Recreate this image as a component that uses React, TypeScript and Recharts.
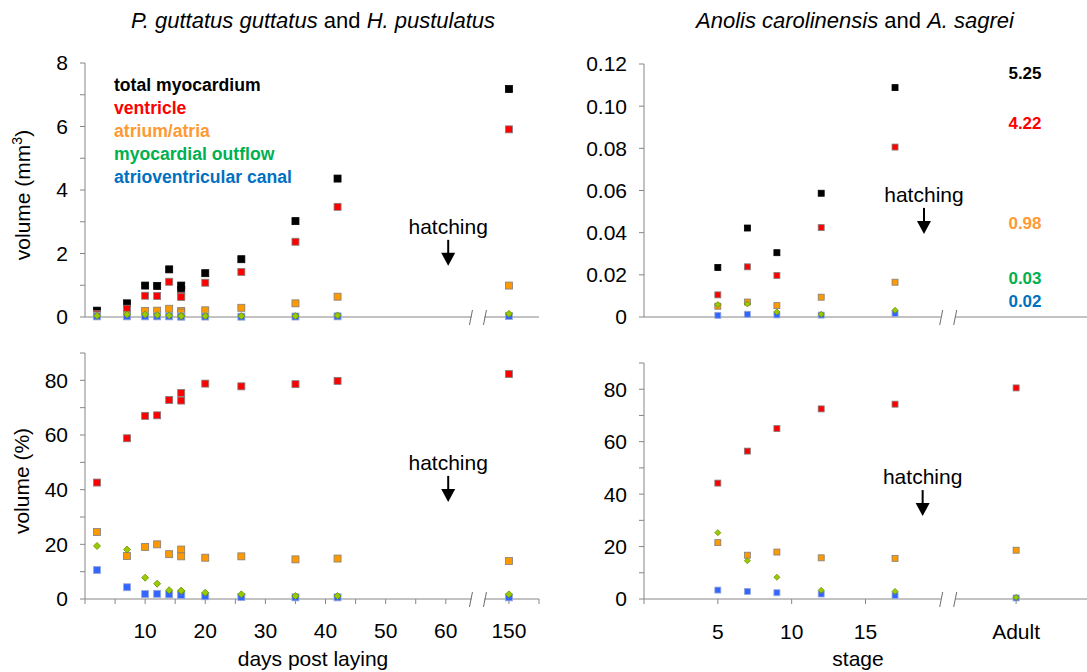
import React from 'react';
import { ScatterChart, Scatter, XAxis, YAxis, ReferenceLine, ReferenceDot, Legend } from 'recharts';

const FONT = '"Liberation Sans", Arial, Helvetica, sans-serif';

// ---------- P. guttatus guttatus and H. pustulatus (days post laying) ----------
const days = [2, 7, 10, 12, 14, 16, 16, 20, 26, 35, 42, 150];
const snakeTotalMm3 = [0.2, 0.43, 0.99, 0.98, 1.5, 0.99, 0.85, 1.38, 1.82, 3.02, 4.36, 7.18];
const snakeVentricleMm3 = [0.09, 0.26, 0.67, 0.66, 1.11, 0.67, 0.63, 1.08, 1.42, 2.37, 3.47, 5.91];
const snakeAtriumMm3 = [0.05, 0.07, 0.19, 0.2, 0.26, 0.19, 0.14, 0.21, 0.29, 0.43, 0.64, 0.99];
const snakeOutflowMm3 = [0.04, 0.08, 0.08, 0.06, 0.05, 0.03, 0.03, 0.03, 0.03, 0.03, 0.05, 0.1];
const snakeAvcMm3 = [0.02, 0.02, 0.02, 0.02, 0.02, 0.015, 0.013, 0.014, 0.01, 0.015, 0.02, 0.03];

const snakeVentriclePct = [42.6, 58.8, 67.0, 67.2, 72.8, 75.4, 72.6, 78.8, 77.8, 78.6, 79.8, 82.3];
const snakeAtriumPct = [24.5, 15.7, 19.0, 20.0, 16.4, 18.1, 15.6, 15.1, 15.6, 14.5, 14.8, 13.9];
const snakeOutflowPct = [19.4, 18.1, 7.8, 5.6, 3.2, 3.0, 3.0, 2.3, 1.7, 1.1, 1.1, 1.7];
const snakeAvcPct = [10.6, 4.3, 1.8, 1.9, 1.7, 1.5, 1.5, 1.0, 0.7, 0.6, 0.6, 0.6];

const dayTickValues = [0, 5, 10, 15, 20, 25, 30, 35, 40, 45, 50, 55, 60, 150, 155];
const dayTickLabels = ['', '', '10', '', '20', '', '30', '', '40', '', '50', '', '60', '150', ''];

// ---------- Anolis carolinensis and A. sagrei (stage) ----------
const stages = ['5', '7', '9', '12', '17', 'Adult'];
const lizardTotalMm3 = [0.0235, 0.0422, 0.0305, 0.0587, 0.1088];
const lizardVentricleMm3 = [0.0105, 0.0238, 0.0197, 0.0424, 0.0806];
const lizardAtriumMm3 = [0.0051, 0.0071, 0.0054, 0.0094, 0.0165];
const lizardOutflowMm3 = [0.0059, 0.0062, 0.0024, 0.0013, 0.0032];
const lizardAvcMm3 = [0.0008, 0.0013, 0.001, 0.0009, 0.0016];
const adultVolumesMm3 = [5.25, 4.22, 0.98, 0.03, 0.02]; // total, ventricle, atrium, outflow, AVC

const lizardVentriclePct = [44.2, 56.4, 65.0, 72.5, 74.3, 80.5];
const lizardAtriumPct = [21.5, 16.7, 17.9, 15.7, 15.5, 18.6];
const lizardOutflowPct = [25.3, 14.6, 8.3, 3.3, 2.9, 0.6];
const lizardAvcPct = [3.4, 2.9, 2.4, 1.9, 1.3, 0.4];

const stageTickValues = ['0', '5', '10', '15', 'Adult'];
const stageTickLabels = ['', '5', '10', '15', 'Adult'];

const seriesNames = ['total myocardium', 'ventricle', 'atrium/atria', 'myocardial outflow', 'atrioventricular canal'];
const yTicksMm3 = [0, 1, 2, 3, 4, 5, 6, 7, 8];
const yTicksPct = [0, 10, 20, 30, 40, 50, 60, 70, 80, 90];
const yTicksLizardMm3 = [0, 0.02, 0.04, 0.06, 0.08, 0.1, 0.12];

// ---------- axis-break mapping (positions on the broken axes) ----------
const dayPos = (d: number) => (d >= 100 ? d - 79.5 : d);
const stagePos = (s: string) => (s === 'Adult' ? 25.2 : Number(s));

const STYLE: Record<string, { fill: string; stroke: string; text: string; shape: 'square' | 'diamond' }> = {
  'total myocardium': { fill: '#000000', stroke: '#000000', text: '#000000', shape: 'square' },
  ventricle: { fill: '#ff0000', stroke: '#7f7f7f', text: '#ff0000', shape: 'square' },
  'atrium/atria': { fill: '#ff9900', stroke: '#7f7f7f', text: '#ff9933', shape: 'square' },
  'myocardial outflow': { fill: '#99cc00', stroke: '#6b8e00', text: '#00b050', shape: 'diamond' },
  'atrioventricular canal': { fill: '#3366ff', stroke: '#9aa9d9', text: '#0070c0', shape: 'square' },
};

const AXIS = '#868686';

const makeShape = (kind: 'square' | 'diamond', side: number, fill: string, stroke: string) => (p: any) => {
  const { cx, cy } = p;
  if (cx == null || cy == null) return <g />;
  if (kind === 'diamond') {
    const h = side / 2 + 0.5;
    return (
      <path d={`M${cx},${cy - h} L${cx + h},${cy} L${cx},${cy + h} L${cx - h},${cy} Z`} fill={fill} stroke={stroke} strokeWidth={0.8} />
    );
  }
  const h = side / 2;
  return <rect x={cx - h} y={cy - h} width={side} height={side} fill={fill} stroke={stroke} strokeWidth={0.8} />;
};

const pts = (xs: number[], ys: number[]) => ys.map((y, i) => ({ x: xs[i], y }));

const HatchShape = (p: any) => {
  const { cx, cy } = p;
  if (cx == null || cy == null) return <g />;
  return (
    <g>
      <text x={cx} y={cy + 7} textAnchor="middle" fontSize={21} fontFamily={FONT} fill="#000">
        hatching
      </text>
      <line x1={cx} y1={cy + 13} x2={cx} y2={cy + 28} stroke="#000" strokeWidth={2} />
      <path d={`M${cx - 7},${cy + 26} L${cx + 7},${cy + 26} L${cx},${cy + 39} Z`} fill="#000" />
    </g>
  );
};

const BreakShape = (p: any) => {
  const { cx, cy } = p;
  if (cx == null || cy == null) return <g />;
  return (
    <g stroke="#6d6d6d" strokeWidth={1}>
      <line x1={cx - 8.5} y1={cy + 8} x2={cx - 5.5} y2={cy - 7} />
      <line x1={cx + 5.5} y1={cy + 8} x2={cx + 8.5} y2={cy - 7} />
    </g>
  );
};

const LegendContent = (props: any) => {
  const payload = (props.payload || []).slice().sort(
    (a: any, b: any) => seriesNames.indexOf(a.value) - seriesNames.indexOf(b.value)
  );
  return (
    <div style={{ fontFamily: FONT, fontWeight: 'bold', fontSize: 17.6, lineHeight: '23px', whiteSpace: 'nowrap' }}>
      {payload.map((e: any) => (
        <div key={e.value} style={{ color: STYLE[e.value].text }}>
          {e.value}
        </div>
      ))}
    </div>
  );
};

type Series = { name: string; data: { x: number; y: number }[] };

const renderSeries = (series: Series[], side: number) =>
  // draw order: total, ventricle, atrium, AVC, outflow (outflow on top)
  [0, 1, 2, 4, 3]
    .filter((i) => series[i])
    .map((i) => {
      const s = series[i];
      const st = STYLE[s.name];
      return (
        <Scatter
          key={s.name}
          name={s.name}
          data={s.data}
          fill={st.fill}
          isAnimationActive={false}
          shape={makeShape(st.shape, st.shape === 'diamond' ? side - 1 : side, st.fill, st.stroke)}
        />
      );
    });

const tickStyle = { fontSize: 21, fill: '#000', fontFamily: FONT };

// left panels
const leftX = days.map(dayPos);
const leftDomain: [number, number] = [0, 75.5];
const leftTicks = dayTickValues.map(dayPos);
const leftFmt = (v: number) => dayTickLabels[leftTicks.indexOf(v)] ?? '';
const leftAxisSegs: [number, number][] = [
  [0, 64.3],
  [66.4, 75.5],
];
const LEFT_BREAK = 65.35;

// right panels
const rightXTop = stages.slice(0, 5).map(stagePos);
const rightXBottom = stages.map(stagePos);
const rightDomain: [number, number] = [0, 30];
const rightTicks = stageTickValues.map(stagePos);
const rightFmt = (v: number) => stageTickLabels[rightTicks.indexOf(v)] ?? '';
const rightAxisSegs: [number, number][] = [
  [0, 20.1],
  [21.1, 30],
];
const RIGHT_BREAK = 20.6;

const adultLabelX = 25.8;
const adultLabelY = [0.1158, 0.092, 0.0447, 0.0186, 0.0075];

const axisLines = (segs: [number, number][]) =>
  segs.map(([a, b], i) => (
    <ReferenceLine key={'seg' + i} segment={[{ x: a, y: 0 }, { x: b, y: 0 }]} stroke={AXIS} strokeWidth={1} ifOverflow="visible" />
  ));

const TopLeft = () => (
  <ScatterChart width={560} height={300} margin={{ top: 23, right: 21, bottom: 0, left: 0 }}>
    <XAxis type="number" dataKey="x" domain={leftDomain} ticks={leftTicks} interval={0} tick={false} tickSize={5}
      axisLine={false} tickLine={{ stroke: AXIS }} height={23} allowDataOverflow />
    <YAxis type="number" dataKey="y" domain={[0, 8]} ticks={yTicksMm3} interval={0} width={85} tickSize={5} tickMargin={12}
      tick={tickStyle} tickFormatter={(v: number) => (v % 2 === 0 ? String(v) : '')} axisLine={{ stroke: AXIS }} tickLine={{ stroke: AXIS }} />
    {axisLines(leftAxisSegs)}
    <ReferenceDot x={LEFT_BREAK} y={0} r={0} ifOverflow="visible" shape={BreakShape} />
    <ReferenceDot x={60.4} y={2.84} r={0} ifOverflow="visible" shape={HatchShape} />
    {renderSeries(
      [
        { name: seriesNames[0], data: pts(leftX, snakeTotalMm3) },
        { name: seriesNames[1], data: pts(leftX, snakeVentricleMm3) },
        { name: seriesNames[2], data: pts(leftX, snakeAtriumMm3) },
        { name: seriesNames[3], data: pts(leftX, snakeOutflowMm3) },
        { name: seriesNames[4], data: pts(leftX, snakeAvcMm3) },
      ],
      7
    )}
    <Legend layout="vertical" align="center" verticalAlign="middle" content={LegendContent}
      wrapperStyle={{ left: 114, top: 34, width: 260, height: 120 }} />
  </ScatterChart>
);

const BottomLeft = () => (
  <ScatterChart width={560} height={332} margin={{ top: 13, right: 21, bottom: 0, left: 0 }}>
    <XAxis type="number" dataKey="x" domain={leftDomain} ticks={leftTicks} interval={0} tick={tickStyle} tickFormatter={leftFmt}
      tickSize={5} tickMargin={19} axisLine={false} tickLine={{ stroke: AXIS }} height={73} allowDataOverflow />
    <YAxis type="number" dataKey="y" domain={[0, 90]} ticks={yTicksPct} interval={0} width={85} tickSize={5} tickMargin={12}
      tick={tickStyle} tickFormatter={(v: number) => (v % 20 === 0 && v <= 80 ? String(v) : '')} axisLine={{ stroke: AXIS }} tickLine={{ stroke: AXIS }} />
    {axisLines(leftAxisSegs)}
    <ReferenceDot x={LEFT_BREAK} y={0} r={0} ifOverflow="visible" shape={BreakShape} />
    <ReferenceDot x={60.4} y={49.8} r={0} ifOverflow="visible" shape={HatchShape} />
    {renderSeries(
      [
        undefined as any,
        { name: seriesNames[1], data: pts(leftX, snakeVentriclePct) },
        { name: seriesNames[2], data: pts(leftX, snakeAtriumPct) },
        { name: seriesNames[3], data: pts(leftX, snakeOutflowPct) },
        { name: seriesNames[4], data: pts(leftX, snakeAvcPct) },
      ],
      7
    )}
  </ScatterChart>
);

const AdultLabel = (i: number) => (p: any) => {
  const { cx, cy } = p;
  if (cx == null || cy == null) return <g />;
  return (
    <text x={cx} y={cy + 6} textAnchor="middle" fontSize={17} fontWeight="bold" fontFamily={FONT} fill={STYLE[seriesNames[i]].text}>
      {adultVolumesMm3[i].toFixed(2)}
    </text>
  );
};

const TopRight = () => (
  <ScatterChart width={527} height={300} margin={{ top: 24, right: 0, bottom: 0, left: 0 }}>
    <XAxis type="number" dataKey="x" domain={rightDomain} ticks={rightTicks} interval={0} tick={false} tickSize={5}
      axisLine={false} tickLine={{ stroke: AXIS }} height={23} allowDataOverflow />
    <YAxis type="number" dataKey="y" domain={[0, 0.12]} ticks={yTicksLizardMm3} interval={0} width={84} tickSize={5} tickMargin={12}
      tick={tickStyle} tickFormatter={(v: number) => (v === 0 ? '0' : v.toFixed(2))} axisLine={{ stroke: AXIS }} tickLine={{ stroke: AXIS }} />
    {axisLines(rightAxisSegs)}
    <ReferenceDot x={RIGHT_BREAK} y={0} r={0} ifOverflow="visible" shape={BreakShape} />
    <ReferenceDot x={18.96} y={0.0579} r={0} ifOverflow="visible" shape={HatchShape} />
    {adultVolumesMm3.map((_, i) => (
      <ReferenceDot key={'adult' + i} x={adultLabelX} y={adultLabelY[i]} r={0} ifOverflow="visible" shape={AdultLabel(i)} />
    ))}
    {renderSeries(
      [
        { name: seriesNames[0], data: pts(rightXTop, lizardTotalMm3) },
        { name: seriesNames[1], data: pts(rightXTop, lizardVentricleMm3) },
        { name: seriesNames[2], data: pts(rightXTop, lizardAtriumMm3) },
        { name: seriesNames[3], data: pts(rightXTop, lizardOutflowMm3) },
        { name: seriesNames[4], data: pts(rightXTop, lizardAvcMm3) },
      ],
      6
    )}
  </ScatterChart>
);

const BottomRight = () => (
  <ScatterChart width={527} height={332} margin={{ top: 23, right: 0, bottom: 0, left: 0 }}>
    <XAxis type="number" dataKey="x" domain={rightDomain} ticks={rightTicks} interval={0} tick={tickStyle} tickFormatter={rightFmt}
      tickSize={5} tickMargin={20} axisLine={false} tickLine={{ stroke: AXIS }} height={73} allowDataOverflow />
    <YAxis type="number" dataKey="y" domain={[0, 90]} ticks={yTicksPct} interval={0} width={84} tickSize={5} tickMargin={12}
      tick={tickStyle} tickFormatter={(v: number) => (v % 20 === 0 && v <= 80 ? String(v) : '')} axisLine={{ stroke: AXIS }} tickLine={{ stroke: AXIS }} />
    {axisLines(rightAxisSegs)}
    <ReferenceDot x={RIGHT_BREAK} y={0} r={0} ifOverflow="visible" shape={BreakShape} />
    <ReferenceDot x={18.87} y={46.5} r={0} ifOverflow="visible" shape={HatchShape} />
    {renderSeries(
      [
        undefined as any,
        { name: seriesNames[1], data: pts(rightXBottom, lizardVentriclePct) },
        { name: seriesNames[2], data: pts(rightXBottom, lizardAtriumPct) },
        { name: seriesNames[3], data: pts(rightXBottom, lizardOutflowPct) },
        { name: seriesNames[4], data: pts(rightXBottom, lizardAvcPct) },
      ],
      6
    )}
  </ScatterChart>
);

export default function App() {
  return (
    <div style={{ position: 'absolute', left: 0, top: 0, width: 1087, height: 672, background: '#fff', fontFamily: FONT }}>
      <div style={{ position: 'absolute', left: 0, top: 40 }}>
        <TopLeft />
      </div>
      <div style={{ position: 'absolute', left: 0, top: 340 }}>
        <BottomLeft />
      </div>
      <div style={{ position: 'absolute', left: 560, top: 40 }}>
        <TopRight />
      </div>
      <div style={{ position: 'absolute', left: 560, top: 340 }}>
        <BottomRight />
      </div>
      <svg width={1087} height={672} style={{ position: 'absolute', left: 0, top: 0, pointerEvents: 'none' }} fontFamily={FONT}>
        <text x={313} y={28} textAnchor="middle" fontSize={22} fill="#000">
          <tspan fontStyle="italic">P. guttatus guttatus</tspan> and <tspan fontStyle="italic">H. pustulatus</tspan>
        </text>
        <text x={855} y={28} textAnchor="middle" fontSize={22} fill="#000">
          <tspan fontStyle="italic">Anolis carolinensis</tspan> and <tspan fontStyle="italic">A. sagrei</tspan>
        </text>
        <text transform="translate(30,195) rotate(-90)" textAnchor="middle" fontSize={21} fill="#000">
          volume (mm<tspan fontSize={14} dy={-8}>3</tspan>
          <tspan dy={8}>)</tspan>
        </text>
        <text transform="translate(29,481) rotate(-90)" textAnchor="middle" fontSize={21} fill="#000">
          volume (%)
        </text>
        <text x={313} y={666} textAnchor="middle" fontSize={21} fill="#000">
          days post laying
        </text>
        <text x={858} y={666} textAnchor="middle" fontSize={21} fill="#000">
          stage
        </text>
      </svg>
    </div>
  );
}
